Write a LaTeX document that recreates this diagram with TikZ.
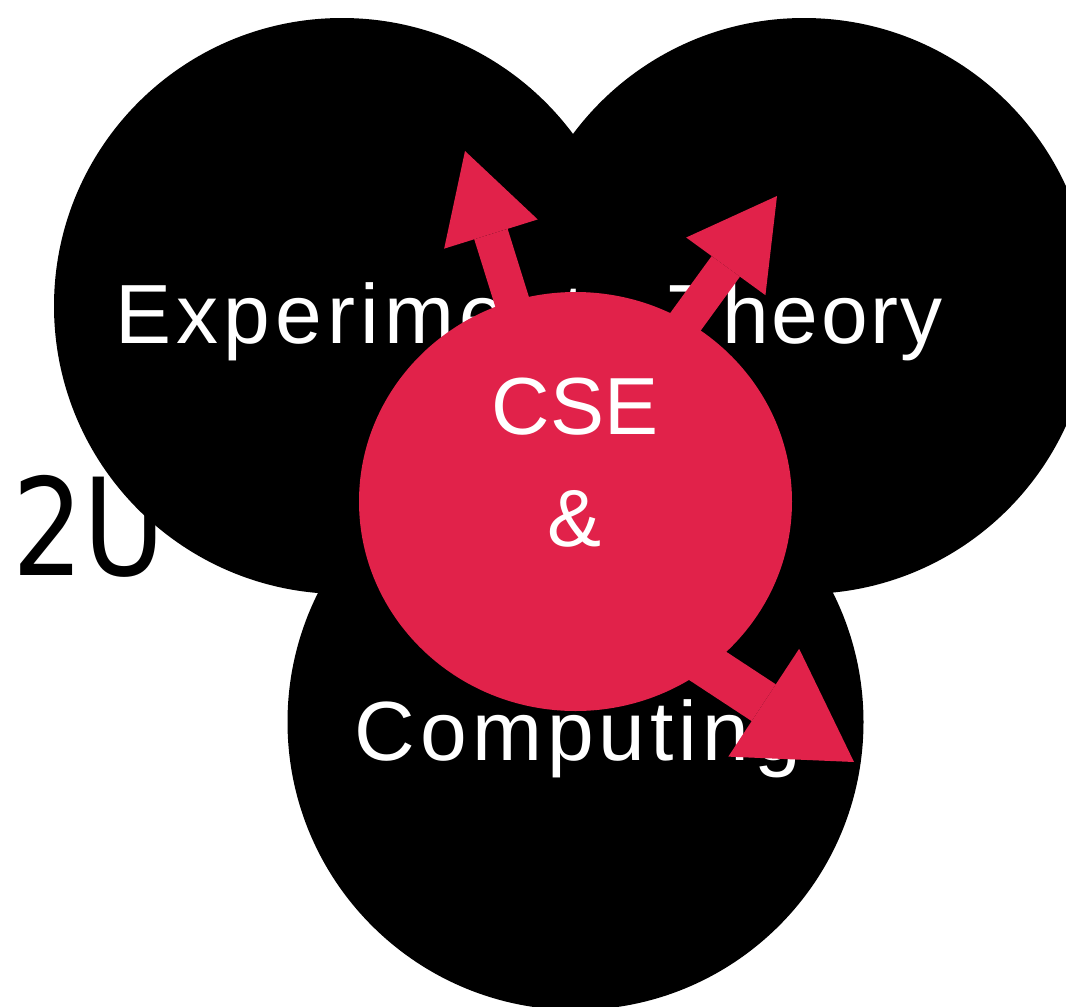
\documentclass[tikz,border=0pt]{standalone}
\usepackage{fontspec}
\setmainfont{Liberation Sans}
\newfontfamily\labelfont[LetterSpace=6]{Liberation Sans}
\newfontfamily\narrowlabelfont[LetterSpace=3]{Liberation Sans}
\newfontfamily\dejavufont{DejaVu Sans}
\usetikzlibrary{shapes.geometric,arrows.meta}
\definecolor{cssred}{RGB}{225,34,74}

\tikzset{
  field/.style={circle, fill=black, minimum size=576pt, inner sep=0pt},
  fieldlabel/.style={text=white, anchor=base, inner sep=0pt,
    font=\labelfont\fontsize{84}{100}\selectfont},
  core/.style={ellipse, fill=cssred, minimum width=433pt, minimum height=419pt, inner sep=0pt},
  corelabel/.style={text=white, anchor=base, inner sep=0pt,
    font=\fontsize{81}{100}\selectfont},
  pointer/.style={draw=cssred, line width=35pt,
    -{Triangle[length=87pt, width=98pt, line width=0pt]}},
  bigpointer/.style={draw=cssred, line width=44pt,
    -{Triangle[length=108pt, width=129pt, line width=0pt]}},
}

\begin{document}
\begin{tikzpicture}[x=1pt, y=-1pt]
  \useasboundingbox (0,0) rectangle (1066,1007);
  \clip (0,0) rectangle (1066,1007);

  % partly hidden caption behind the fields
  \node[anchor=base west, inner sep=0pt, font=\dejavufont\fontsize{135}{160}\selectfont]
    (tag) at (12,575) {\scalebox{0.83}[1]{2U}};

  % the three fields
  \node[field] (exp) at (342,306) {};
  \node[field] (theo) at (804,306) {};
  \node[field] (comp) at (575.5,722) {};

  \node[fieldlabel] (explabel) at (351,343) {Experiment};
  \node[fieldlabel, font=\narrowlabelfont\fontsize{84}{100}\selectfont]
    (theolabel) at (806,343) {Theory};
  \node[fieldlabel] (complabel) at (578,760) {Computing};

  % arrows pointing out of the core
  \coordinate (s1) at (549,420);
  \coordinate (t1) at (465,151);
  \coordinate (s2) at (614,420);
  \coordinate (t2) at (777,196);
  \coordinate (s3) at (650,628);
  \coordinate (t3) at (854,762);
  \draw[pointer] (s1) -- (t1);
  \draw[pointer] (s2) -- (t2);
  \draw[bigpointer] (s3) -- (t3);

  % the core
  \node[core] (cse) at (575.5,501.5) {};
  \node[corelabel] (cselabel) at (575,434) {CSE};
  \node[corelabel] (andlabel) at (575,546) {\&};
\end{tikzpicture}
\end{document}
